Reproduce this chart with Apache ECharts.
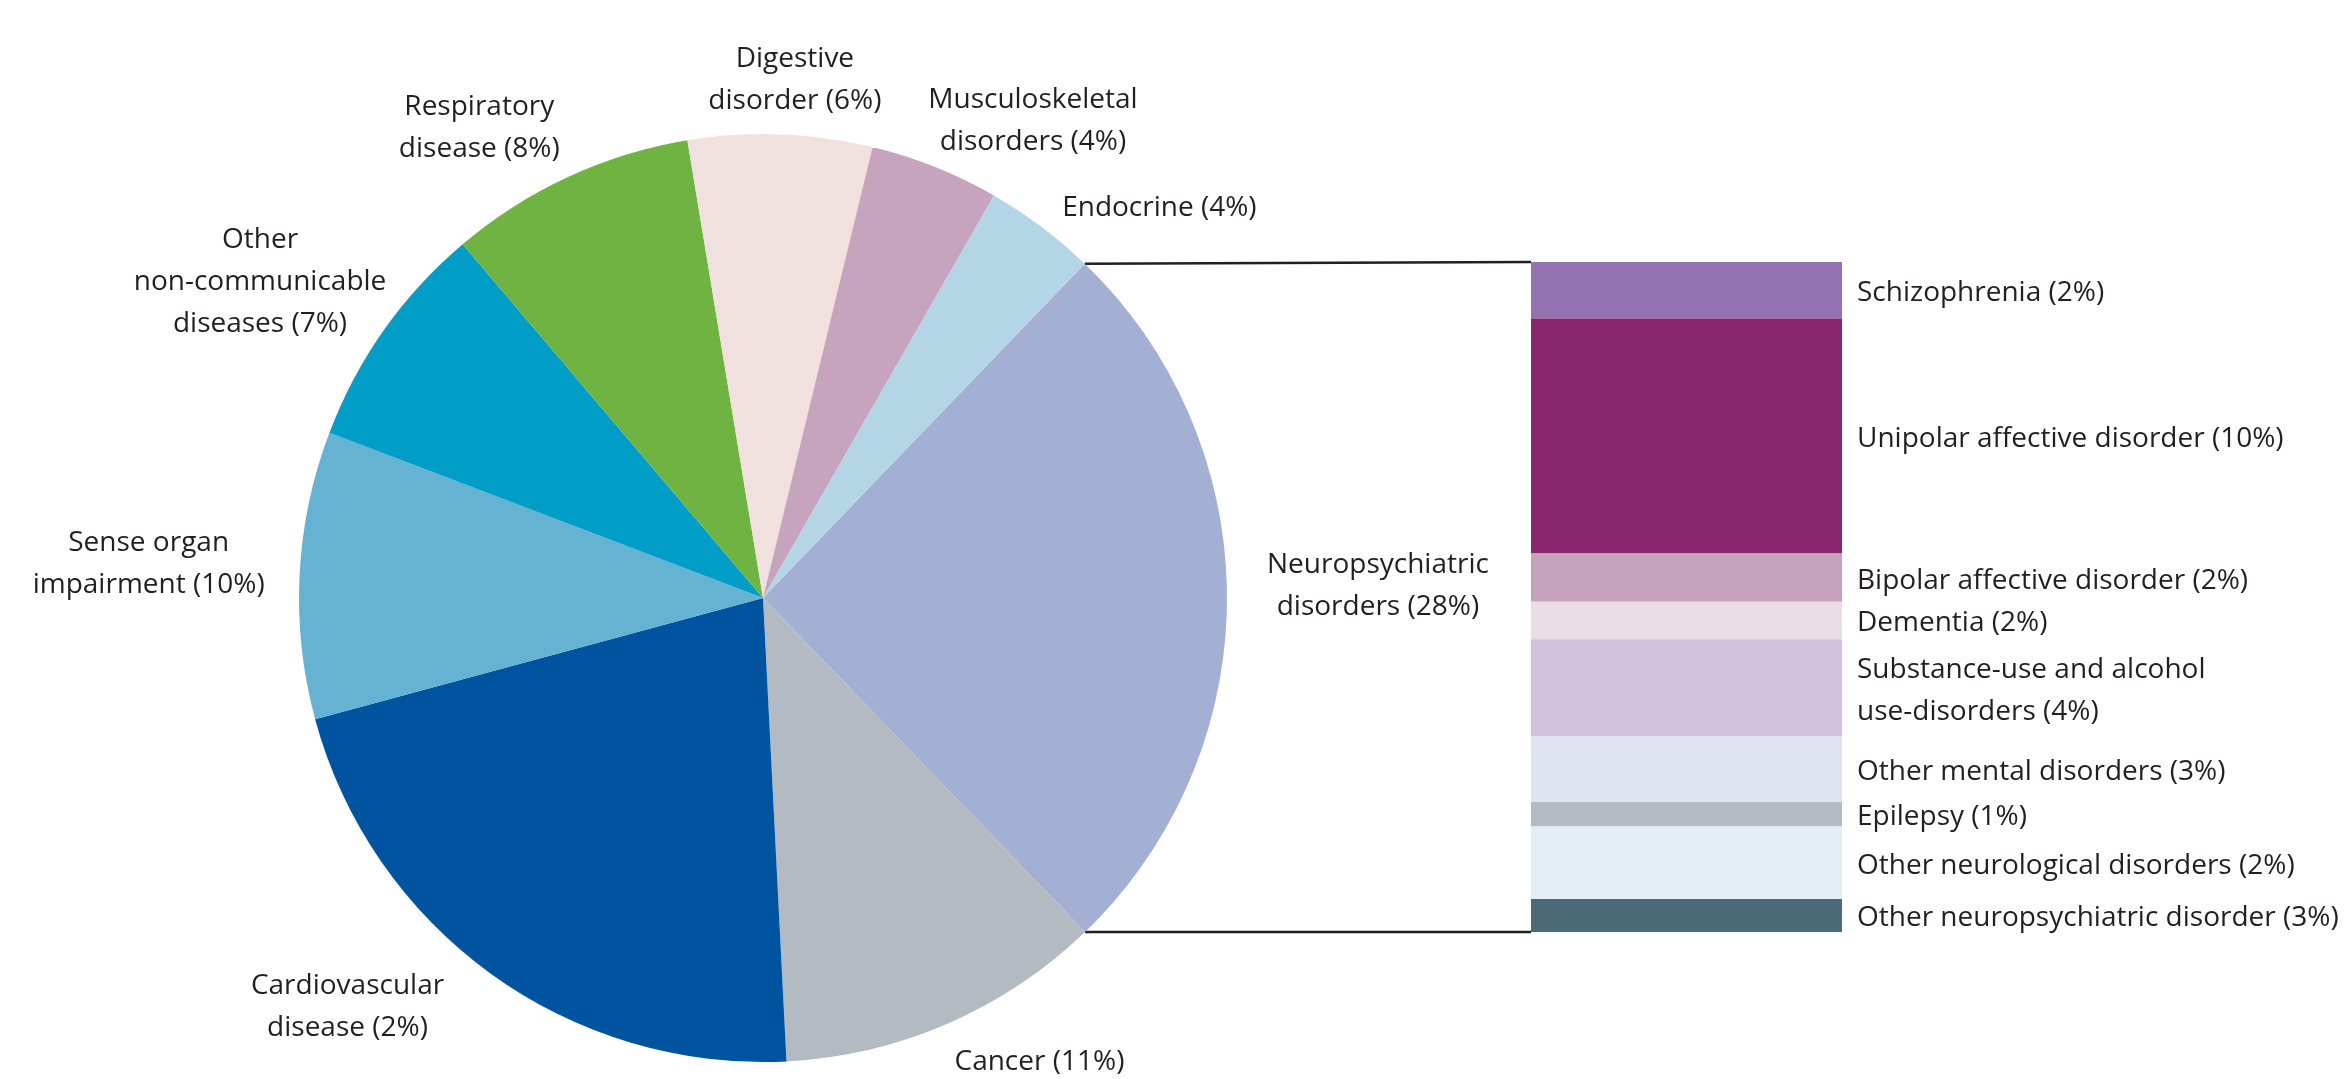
<!DOCTYPE html>
<html>
<head>
<meta charset="utf-8">
<script src="https://cdn.jsdelivr.net/npm/echarts@6/dist/echarts.min.js"></script>
<style>
  html, body { margin: 0; padding: 0; background: #fff; }
  #chart { width: 2344px; height: 1079px; }
</style>
</head>
<body>
<div id="chart"></div>
<script>
// pie: disease groups, clockwise from the neuropsychiatric slice
const diseaseLabels = [
  'Neuropsychiatric\ndisorders (28%)',
  'Cancer (11%)',
  'Cardiovascular\ndisease (2%)',
  'Sense organ\nimpairment (10%)',
  'Other\nnon-communicable\ndiseases (7%)',
  'Respiratory\ndisease (8%)',
  'Digestive\ndisorder (6%)',
  'Musculoskeletal\ndisorders (4%)',
  'Endocrine (4%)'
]
const diseaseShares = [25.6, 11.4, 21.6, 10.0, 8.0, 8.6, 6.4, 4.5, 3.9]
const diseaseColors = [
  '#a3b0d4', '#b3bac1', '#00549f', '#65b2d3', '#009dc6',
  '#6fb443', '#f0e0de', '#c6a4bd', '#b3d5e6'
]

// stacked bar: breakdown of neuropsychiatric disorders, top to bottom
const neuroLabels = [
  'Schizophrenia (2%)',
  'Unipolar affective disorder (10%)',
  'Bipolar affective disorder (2%)',
  'Dementia (2%)',
  'Substance-use and alcohol\nuse-disorders (4%)',
  'Other mental disorders (3%)',
  'Epilepsy (1%)',
  'Other neurological disorders (2%)',
  'Other neuropsychiatric disorder (3%)'
]
const neuroShares = [2.36, 9.82, 2.01, 1.57, 4.04, 2.76, 1.02, 3.03, 1.38]
const neuroColors = [
  '#9471b1', '#87266d', '#c6a3bd', '#eadde6', '#d1c3e0',
  '#e0e3f0', '#b3bac1', '#e5edf4', '#4c6a78'
]

// small hand tweaks to the pie label placement, in px
const pieLabelNudge = [
  [10, -12], [0, 0], [-33, -27], [-5, -4], [24, 30],
  [0, 11], [6, 0], [-6, 13], [7, 20]
]

const FONT_FAMILY = '"Open Sans", "Noto Sans", sans-serif'
const FONT_SIZE = 28
const LINE_HEIGHT = 42
const TEXT_COLOR = '#231f20'

const PIE_CENTER = [763, 598]
const PIE_RADIUS = 464
const PIE_START = 46.1

const BAR_GRID = { left: 1531, top: 262, width: 311, height: 670 }

const chart = echarts.init(document.getElementById('chart'))

const sum = arr => arr.reduce((a, b) => a + b, 0)
const neuroTotal = sum(neuroShares)

chart.setOption({
  animation: false,
  backgroundColor: '#ffffff',
  textStyle: { fontFamily: FONT_FAMILY },
  grid: BAR_GRID,
  xAxis: { type: 'category', data: [''], show: false },
  yAxis: { type: 'value', min: 0, max: neuroTotal, inverse: true, show: false },
  series: [
    {
      type: 'pie',
      center: PIE_CENTER,
      radius: PIE_RADIUS,
      startAngle: PIE_START,
      clockwise: true,
      label: { show: false },
      labelLine: { show: false },
      emphasis: { disabled: true },
      itemStyle: { borderWidth: 0 },
      data: diseaseLabels.map((name, i) => ({
        name,
        value: diseaseShares[i],
        itemStyle: { color: diseaseColors[i] }
      }))
    },
    ...neuroLabels.map((name, i) => ({
      type: 'bar',
      stack: 'neuro',
      barWidth: '100%',
      data: [neuroShares[i]],
      itemStyle: { color: neuroColors[i] },
      emphasis: { disabled: true },
      label: {
        show: true,
        position: 'right',
        distance: 15,
        offset: [0, 3],
        formatter: name,
        color: TEXT_COLOR,
        fontFamily: FONT_FAMILY,
        fontSize: FONT_SIZE,
        lineHeight: LINE_HEIGHT,
        align: 'left'
      }
    }))
  ]
})

// pie labels and connector lines, placed from the slice angles
const ctx = document.createElement('canvas').getContext('2d')
ctx.font = `${FONT_SIZE}px ${FONT_FAMILY}`

const pieTotal = sum(diseaseShares)
const toRad = d => d * Math.PI / 180
const push = v => Math.max(-1, Math.min(1, v * 2.5))
const graphics = []
let acc = 0
const sliceAngles = diseaseShares.map(v => {
  const a0 = 90 - PIE_START + acc / pieTotal * 360
  acc += v
  const a1 = 90 - PIE_START + acc / pieTotal * 360
  return [a0, a1]
})

diseaseLabels.forEach((text, i) => {
  const mid = toRad((sliceAngles[i][0] + sliceAngles[i][1]) / 2)
  const dx = Math.sin(mid)
  const dy = -Math.cos(mid)
  const lines = text.split('\n')
  const w = Math.max(...lines.map(l => ctx.measureText(l).width))
  const h = lines.length * LINE_HEIGHT
  const rr = PIE_RADIUS + 12 + 18 * Math.abs(dx)
  graphics.push({
    type: 'text',
    x: PIE_CENTER[0] + rr * dx + w / 2 * push(dx) + pieLabelNudge[i][0],
    y: PIE_CENTER[1] + rr * dy + h / 2 * push(dy) + pieLabelNudge[i][1],
    style: {
      text,
      fill: TEXT_COLOR,
      font: `${FONT_SIZE}px ${FONT_FAMILY}`,
      lineHeight: LINE_HEIGHT,
      align: 'center',
      verticalAlign: 'middle',
      textAlign: 'center',
      textVerticalAlign: 'middle'
    }
  })
})

const barTop = chart.convertToPixel({ yAxisIndex: 0 }, 0)
const barBottom = chart.convertToPixel({ yAxisIndex: 0 }, neuroTotal)
const edgePoint = deg => [
  PIE_CENTER[0] + PIE_RADIUS * Math.sin(toRad(deg)),
  PIE_CENTER[1] - PIE_RADIUS * Math.cos(toRad(deg))
]
const neuroStart = edgePoint(sliceAngles[0][0])
const neuroEnd = edgePoint(sliceAngles[0][1])

;[[neuroStart, barTop], [neuroEnd, barBottom]].forEach(([p, y]) => {
  graphics.push({
    type: 'line',
    shape: { x1: p[0], y1: p[1], x2: BAR_GRID.left, y2: y },
    style: { stroke: '#231f20', lineWidth: 2.5 }
  })
})

chart.setOption({ graphic: graphics })
</script>
</body>
</html>
